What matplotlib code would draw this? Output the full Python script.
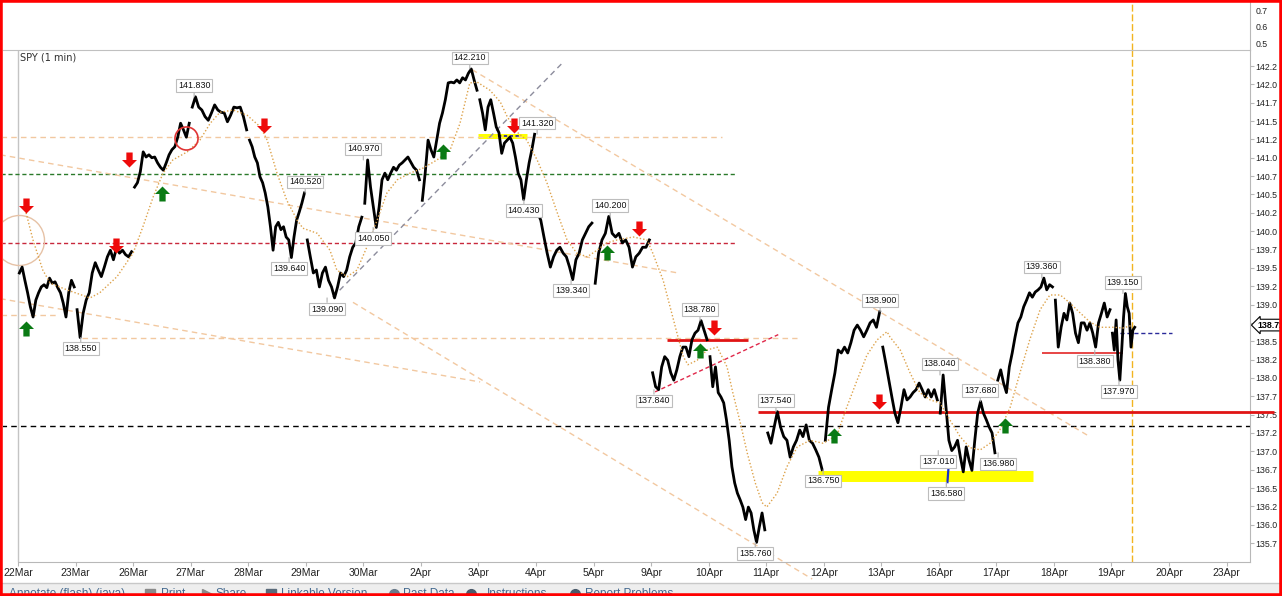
import numpy as np
import matplotlib.pyplot as plt
from matplotlib.path import Path
from matplotlib.patches import Rectangle

plt.rcParams['font.family'] = ['Liberation Sans', 'DejaVu Sans']

# SPY 1-min prices, one list per trading session
p22mar = [139.43, 139.51, 139.33, 139.16, 138.97, 138.83, 139.06, 139.16, 139.24, 139.27, 139.23,
          139.36, 139.29, 139.31, 139.23, 139.16, 139.02, 138.83, 139.16, 139.33, 139.24]
p23mar = [138.93, 138.55, 138.88, 139.06, 139.16, 139.43, 139.57, 139.47, 139.38, 139.51, 139.65,
          139.74, 139.61, 139.77, 139.70, 139.74, 139.68, 139.65, 139.72]
p26mar = [140.60, 140.66, 140.81, 141.08, 141.01, 141.04, 141.00, 141.01, 140.93, 140.87, 140.83,
          140.93, 141.04, 141.11, 141.15, 141.28, 141.47, 141.38, 141.28, 141.47]
p27mar = [141.69, 141.83, 141.69, 141.65, 141.56, 141.51, 141.61, 141.72, 141.65, 141.62, 141.61,
          141.49, 141.58, 141.69, 141.68, 141.69, 141.56, 141.38]
p28mar = [141.24, 141.15, 141.01, 140.93, 140.74, 140.66, 140.52, 140.33, 140.06, 139.74, 140.06,
          140.12, 140.02, 140.06, 139.92, 139.88, 139.64, 139.92, 140.15, 140.26, 140.38, 140.52]
p29mar = [139.88, 139.65, 139.43, 139.47, 139.24, 139.43, 139.51, 139.33, 139.24, 139.09, 139.24,
          139.43, 139.38, 139.47, 139.65, 139.78, 139.84, 140.06, 140.19]
p30mar = [140.38, 140.97, 140.60, 140.33, 140.05, 140.33, 140.70, 140.79, 140.70, 140.79, 140.87,
          140.83, 140.90, 140.93, 140.97, 141.01, 140.94, 140.87, 140.83, 140.70]
p2apr = [140.42, 140.79, 141.24, 141.11, 141.01, 141.24, 141.47, 141.61, 141.79, 142.02, 142.03,
         142.02, 142.06, 142.02, 142.09, 142.06, 142.15, 142.21, 142.06, 141.92]
p3apr = [141.79, 141.61, 141.38, 141.69, 141.79, 141.61, 141.42, 141.34, 141.06, 141.20, 141.24,
         141.28, 141.20, 141.01, 140.79, 140.70, 140.43, 140.70, 140.93, 141.11, 141.32]
p4apr = [140.25, 140.15, 139.92, 139.70, 139.51, 139.65, 139.74, 139.78, 139.70, 139.65, 139.51,
         139.34, 139.61, 139.70, 139.88, 139.97, 140.06, 140.11]
p5apr = [139.29, 139.70, 139.88, 139.97, 140.20, 139.97, 139.92, 139.97, 139.84, 139.88, 139.78,
         139.51, 139.65, 139.70, 139.78, 139.78, 139.88]
p9apr = [138.07, 137.88, 137.84, 138.15, 138.29, 138.24, 138.07, 137.97, 138.11, 138.29, 138.42,
         138.42, 138.29, 138.52, 138.61, 138.65, 138.78, 138.65, 138.52]
p10apr = [138.29, 137.88, 138.15, 137.80, 137.74, 137.66, 137.43, 137.15, 136.79, 136.57, 136.43,
          136.34, 136.24, 136.07, 136.24, 136.16, 135.93, 135.76, 135.97, 136.16, 135.93]
p11apr = [137.25, 137.11, 137.33, 137.54, 137.33, 137.20, 137.15, 136.92, 137.06, 137.15, 137.29,
          137.20, 137.36, 137.15, 137.11, 137.02, 136.92, 136.75]
p12apr = [137.15, 137.60, 137.84, 138.07, 138.38, 138.34, 138.42, 138.34, 138.48, 138.65, 138.72,
          138.65, 138.56, 138.65, 138.75, 138.79, 138.69, 138.90]
p13apr = [138.42, 138.20, 137.97, 137.74, 137.52, 137.39, 137.60, 137.84, 137.70, 137.74, 137.80,
          137.84, 137.93, 137.84, 137.74, 137.84, 137.74, 137.84, 137.70]
p16apr = [137.52, 138.04, 137.60, 137.15, 137.01, 137.06, 137.15, 136.92, 136.72, 137.06, 136.88,
          136.74, 137.15, 137.52, 137.68, 137.52, 137.43, 137.33, 137.25, 136.98]
p17apr = [137.97, 138.11, 137.93, 137.80, 138.15, 138.34, 138.56, 138.75, 138.83, 138.97, 139.06,
          139.16, 139.10, 139.17, 139.20, 139.24, 139.36, 139.20, 139.27, 139.24]
p18apr = [139.06, 138.42, 138.69, 138.88, 138.79, 139.02, 138.88, 138.61, 138.48, 138.75, 138.75,
          138.65, 138.75, 138.61, 138.42, 138.75, 138.88, 139.02, 138.83, 138.93]
p19apr = [138.61, 138.38, 138.79, 138.24, 137.97, 138.38, 138.83, 139.15, 138.97, 138.88, 138.42,
          138.65, 138.69]
sessions = [p22mar, p23mar, p26mar, p27mar, p28mar, p29mar, p30mar, p2apr, p3apr, p4apr, p5apr,
            p9apr, p10apr, p11apr, p12apr, p13apr, p16apr, p17apr, p18apr, p19apr]
last_span = 0.42          # part of 19Apr already traded
last_price = 138.72

day_labels = ['22Mar', '23Mar', '26Mar', '27Mar', '28Mar', '29Mar', '30Mar', '2Apr', '3Apr', '4Apr',
              '5Apr', '9Apr', '10Apr', '11Apr', '12Apr', '13Apr', '16Apr', '17Apr', '18Apr', '19Apr',
              '20Apr', '23Apr']
# the 138.7 label sits under the last-price tag, so it is left blank
price_tick_labels = ['135.7', '136.0', '136.2', '136.5', '136.7', '137.0', '137.2', '137.5', '137.7',
                     '138.0', '138.2', '138.5', '', '139.0', '139.2', '139.5', '139.7', '140.0',
                     '140.2', '140.5', '140.7', '141.0', '141.2', '141.5', '141.7', '142.0', '142.2']

# moving average (dotted orange), x in trading days
ma_day = [0.14, 0.26, 0.43, 0.56, 0.85, 1.25, 1.42, 1.72, 2.00, 2.17,
          2.35, 2.52, 2.69, 2.94, 3.16, 3.34, 3.51, 3.74, 3.98, 4.21,
          4.33, 4.50, 4.67, 4.85, 4.95, 5.20, 5.42, 5.54, 5.72, 5.89,
          6.06, 6.24, 6.41, 6.59, 6.81, 7.04, 7.28, 7.51, 7.68, 7.85,
          7.98, 8.20, 8.38, 8.50, 8.67, 8.84, 9.02, 9.19, 9.37, 9.54,
          9.71, 9.89, 10.06, 10.23, 10.41, 10.69, 10.93, 11.03, 11.21, 11.33,
          11.45, 11.56, 11.64, 11.80, 11.97, 12.15, 12.32, 12.42, 12.55, 12.67,
          12.81, 12.93, 13.01, 13.19, 13.36, 13.54, 13.76, 13.99, 14.23, 14.40,
          14.58, 14.75, 14.93, 15.10, 15.15, 15.33, 15.50, 15.67, 15.85, 16.02,
          16.19, 16.37, 16.54, 16.72, 16.89, 17.06, 17.24, 17.41, 17.58, 17.76,
          17.93, 18.11, 18.28, 18.45, 18.63, 18.80, 19.03, 19.20, 19.37]
ma_price = [140.25, 139.88, 139.47, 139.29, 139.20, 139.09, 139.16, 139.38, 139.70, 140.06,
            140.47, 140.79, 140.97, 141.08, 141.24, 141.47, 141.62, 141.65, 141.58, 141.42,
            141.24, 140.79, 140.42, 140.15, 140.04, 139.97, 139.74, 139.47, 139.38, 139.47,
            139.78, 140.15, 140.52, 140.70, 140.79, 140.86, 140.97, 141.11, 141.47, 142.02,
            142.03, 141.92, 141.76, 141.56, 141.35, 141.24, 140.97, 140.66, 140.25, 139.88,
            139.70, 139.65, 139.74, 139.84, 139.88, 139.92, 139.88, 139.70, 139.33, 138.97,
            138.61, 138.29, 138.18, 138.24, 138.38, 138.42, 138.15, 137.80, 137.39, 136.98,
            136.57, 136.30, 136.24, 136.43, 136.79, 137.06, 137.15, 137.11, 137.22, 137.60,
            137.97, 138.31, 138.52, 138.63, 138.56, 138.38, 138.07, 137.80, 137.70, 137.66,
            137.43, 137.20, 137.05, 137.02, 137.11, 137.29, 137.60, 138.07, 138.52, 138.93,
            139.13, 139.13, 139.02, 138.89, 138.76, 138.69, 138.69, 138.68, 138.72]

# swing high / low tags
swing_text = ['141.830', '138.550', '139.640', '140.520', '140.970', '140.050', '139.090', '142.210',
              '141.320', '140.430', '140.200', '139.340', '138.780', '137.840', '135.760', '137.540',
              '136.750', '138.900', '138.040', '137.010', '136.580', '137.680', '136.980', '139.360',
              '139.150', '138.380', '137.970']
swing_day = [3.06, 1.09, 4.71, 4.99, 6.00, 6.17, 5.37, 7.85, 9.02, 8.79, 10.29, 9.61, 11.85, 11.05,
             12.81, 13.17, 13.99, 14.98, 16.02, 15.99, 16.13, 16.72, 17.03, 17.79, 19.20, 18.71, 19.13]
swing_is_high = [1, 0, 0, 1, 1, 0, 0, 1, 1, 0, 1, 0, 1, 0, 0, 1, 0, 1, 1, 0, 0, 1, 0, 1, 1, 0, 0]

# signal arrows (tip position)
sell_day = [0.14, 1.70, 1.93, 4.27, 8.62, 10.79, 12.09, 14.96]
sell_price = [140.25, 139.70, 140.87, 141.34, 141.34, 139.93, 138.59, 137.58]
buy_day = [0.14, 2.50, 7.38, 10.23, 11.85, 14.18, 17.15]
buy_price = [138.78, 140.62, 141.19, 139.81, 138.48, 137.32, 137.45]

# drawn levels and trend lines
tan_levels = [141.28, 138.545, 138.86]
tan_level_from = [-0.3, 1.11, -0.3]
tan_level_to = [12.23, 13.54, 0.70]
green_level, red_level, black_level, blue_level = 140.78, 139.84, 137.345, 138.61
tan_trend_day = [(-0.31, 11.47), (-0.31, 8.03), (7.89, 18.58), (5.82, 13.80)]
tan_trend_price = [(141.04, 139.43), (139.08, 137.945), (142.20, 137.22), (139.03, 135.26)]
gray_trend_day, gray_trend_price = (5.47, 9.47), (139.10, 142.30)
red_trend_day, red_trend_price = (11.07, 13.21), (137.81, 138.59)
red_bar_price = [138.51, 137.54, 138.34]
red_bar_from = [11.28, 12.86, 17.79]
red_bar_to = [12.68, 21.83, 19.20]
yellow_price = [136.66, 141.29]
yellow_from = [13.90, 7.99]
yellow_to = [17.64, 8.84]
now_day = 19.36

W, H = 1282, 596
fig = plt.figure(figsize=(W / 100, H / 100), dpi=100)
ax = fig.add_axes([3 / W, 34 / H, 1247 / W, 512 / H])
top = fig.add_axes([3 / W, 546 / H, 1247 / W, 50 / H])

xlo, xhi = -0.261, 21.407
ax.set_xlim(xlo, xhi)
ax.set_ylim(135.492, 142.468)

tan = '#f2c8a0'
dash = (0, (4, 3))

# price, one session after the other with a break between them
xs, ys = [], []
for i, s in enumerate(sessions):
    span = last_span if i == len(sessions) - 1 else 1.0
    n = len(s)
    xs.extend(i + span * (np.arange(n) + 0.5) / n)
    ys.extend(s)
    xs.append(np.nan)
    ys.append(np.nan)
ax.plot(xs, ys, color='black', lw=2.0, zorder=4)

ax.plot(ma_day, ma_price, color='#dda24a', lw=1.0, ls=(0, (1, 1.5)), zorder=4.5)

for p, a, b in zip(tan_levels, tan_level_from, tan_level_to):
    ax.plot([a, b], [p, p], color=tan, lw=1, ls=dash, zorder=2)
ax.plot([-0.3, 12.46], [green_level] * 2, color='#2a7a2a', lw=1, ls=(0, (3, 2)), zorder=2)
ax.plot([-0.3, 12.46], [red_level] * 2, color='#c8283c', lw=1, ls=(0, (3, 2)), zorder=2)
ax.plot([-0.3, xhi], [black_level] * 2, color='black', lw=1, ls=(0, (4, 3)), zorder=2)
ax.plot([19.03, 20.05], [blue_level] * 2, color='#2a2a9a', lw=1, ls=(0, (3, 2)), zorder=2)

for (a, b), (p, q) in zip(tan_trend_day, tan_trend_price):
    ax.plot([a, b], [p, q], color=tan, lw=1, ls=dash, zorder=2, clip_on=(q > 135.49))
ax.plot(gray_trend_day, gray_trend_price, color='#8c8c9c', lw=1, ls=dash, zorder=2)
ax.plot(red_trend_day, red_trend_price, color='#e0284a', lw=1, ls=(0, (3, 2)), zorder=2)

for p, a, b in zip(red_bar_price, red_bar_from, red_bar_to):
    w = 1.1 if b - a < 1.5 and p < 138.4 else 2.0
    ax.plot([a, b], [p, p], color='#e01414', lw=w, solid_capstyle='butt', zorder=3,
            clip_on=b < xhi)
for p, a, b, w in zip(yellow_price, yellow_from, yellow_to, [7.9, 3.6]):
    ax.plot([a, b], [p, p], color='#ffff00', lw=w, solid_capstyle='butt', zorder=1.5)
ax.plot([8.34, 8.72], [141.29, 141.29], color='#1a1aa0', lw=1.2, ls=(0, (2, 1.5)), zorder=1.6)
ax.plot([16.15, 16.17], [136.58, 136.80], color='#1a30c8', lw=1.6, zorder=5)

ax.plot([0.02], [139.88], marker='o', ms=36, mfc='none', mec='#e6c2a6', mew=1, zorder=2)
ax.plot([2.92], [141.27], marker='o', ms=16.6, mfc='none', mec='#e03434', mew=1.2, zorder=5)

ax.axvline(0, color='#c4c4c4', lw=1, zorder=1)
ax.axvline(now_day, color='#f2b420', lw=1, ls=(0, (5, 2)), zorder=2)
top.axvline(now_day, color='#f2b420', lw=1, ls=(0, (5, 2)))

# block arrow markers, tip at the origin
down_verts = [(-0.21, 1), (0.21, 1), (0.21, 0.5), (0.5, 0.5), (0, 0), (-0.5, 0.5), (-0.21, 0.5),
              (-0.21, 1)]
down_arrow = Path(down_verts, closed=True)
up_arrow = Path([(x, -y) for x, y in down_verts], closed=True)
ax.plot(sell_day, sell_price, ls='none', marker=down_arrow, ms=21.6, mfc='#ee0a0a', mec='none', zorder=6)
ax.plot(buy_day, buy_price, ls='none', marker=up_arrow, ms=21.6, mfc='#0a7a14', mec='none', zorder=6)

for t, d, hi in zip(swing_text, swing_day, swing_is_high):
    ax.annotate(t, xy=(d, float(t)), xytext=(0, 8 if hi else -8), textcoords='offset points',
                ha='center', va='center', fontsize=6.4, color='#111111', zorder=7,
                bbox=dict(boxstyle='square,pad=0.2', fc='white', ec='#bdbdbd', lw=0.8),
                arrowprops=dict(arrowstyle='-', color='#b0b0b0', lw=0.8, shrinkA=0, shrinkB=0))

ax.text(17 / 1247, 1 - 7 / 512, 'SPY (1 min)', transform=ax.transAxes, ha='left', va='center',
        fontsize=7, color='#303030', family='DejaVu Sans')

# axes styling
ax.spines['left'].set_visible(False)
ax.spines['top'].set_color('#c0c0c0')
ax.spines['bottom'].set_color('#b8b8b8')
ax.spines['bottom'].set_bounds(0, xhi)
ax.spines['right'].set_color('#b8b8b8')
ax.set_xticks(range(len(day_labels)))
ax.set_xticklabels(day_labels)
ax.yaxis.tick_right()
ax.set_yticks(np.arange(135.75, 142.26, 0.25))
ax.set_yticklabels(price_tick_labels)
ax.tick_params(axis='x', length=3, width=0.8, color='#b8b8b8', labelsize=7.5, pad=1, labelcolor='#222222')
ax.tick_params(axis='y', length=3, width=0.8, color='#b8b8b8', labelsize=6.3, pad=1, labelcolor='#222222')

ax.annotate(f'{last_price:.2f}', xy=(1, last_price), xycoords=ax.get_yaxis_transform(),
            xytext=(5.5, 0), textcoords='offset points', ha='left', va='center', fontsize=6.4,
            fontweight='bold', color='black', zorder=10, annotation_clip=False,
            bbox=dict(boxstyle='larrow,pad=0.15', fc='white', ec='black', lw=0.8))

top.set_xlim(xlo, xhi)
top.set_ylim(0.458, 0.761)
top.set_xticks([])
top.yaxis.tick_right()
top.set_yticks([0.5, 0.6, 0.7])
top.set_yticklabels(['0.5', '0.6', '0.7'])
top.tick_params(axis='y', length=0, labelsize=6.3, pad=4, labelcolor='#222222')
for side in ['left', 'top', 'bottom']:
    top.spines[side].set_visible(False)
top.spines['right'].set_color('#b8b8b8')
top.spines['right'].set_linestyle((0, (1, 1)))
top.patch.set_alpha(0)

# page toolbar under the chart
fig.patches.append(Rectangle((0, 0), 1, 13 / H, transform=fig.transFigure, fc='#eeeeee',
                             ec='none', zorder=0))
fig.add_artist(plt.Line2D([0, 1], [13 / H, 13 / H], transform=fig.transFigure, color='#c8c8c8', lw=1))
toolbar_items = ['Annotate (flash) (java)', 'Print', 'Share', 'Linkable Version', 'Past Data',
                 'Instructions', 'Report Problems']
toolbar_x = [9, 161, 216, 281, 403, 487, 585]
for label, x in zip(toolbar_items, toolbar_x):
    fig.text(x / W, 8 / H, label, ha='left', va='top', fontsize=8.5, color='#44698f')
for x, mk, c in zip([150, 207, 271, 394, 471, 575], ['s', '>', 's', 'o', 'o', 'o'],
                    ['#8a8a8a', '#8a8a8a', '#5a6a7a', '#6a7a8a', '#4a5a6a', '#4a5a6a']):
    fig.add_artist(plt.Line2D([x / W], [2 / H], transform=fig.transFigure, marker=mk, ms=7,
                              mfc=c, mec=c, ls='none'))

fig.patches.append(Rectangle((0, 0), 1, 1, transform=fig.transFigure, fill=False, ec='#ff0000',
                             lw=4, zorder=20))

fig.savefig('out.png', dpi=100)
